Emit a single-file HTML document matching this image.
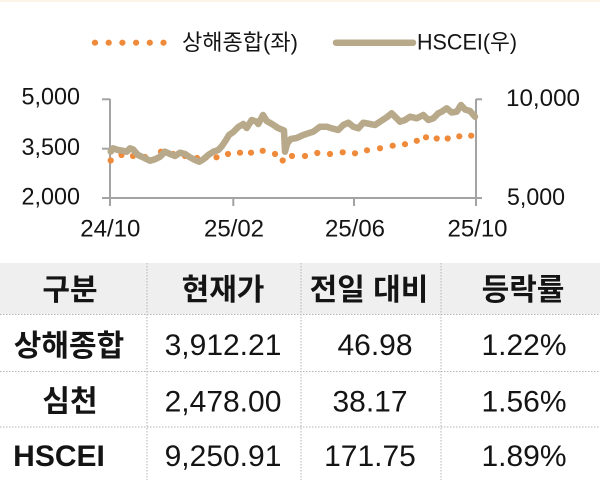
<!DOCTYPE html>
<html>
<head>
<meta charset="utf-8">
<style>
html,body{margin:0;padding:0;background:#fff;}
svg{display:block;}
text{font-family:"Liberation Sans","Noto Sans CJK KR",sans-serif;fill:#141414;}
.b{font-weight:bold;}
</style>
</head>
<body>
<svg width="600" height="480" viewBox="0 0 600 480" xmlns="http://www.w3.org/2000/svg">
  <rect x="0" y="0" width="600" height="480" fill="#ffffff"/>
  <rect x="0" y="0" width="600" height="2" fill="#fcf4e6"/>

  <!-- Legend -->
  <g fill="#ef8a3a">
    <circle cx="95" cy="42.7" r="3.1"/>
    <circle cx="108.7" cy="42.7" r="3.1"/>
    <circle cx="122.4" cy="42.7" r="3.1"/>
    <circle cx="136.1" cy="42.7" r="3.1"/>
    <circle cx="149.8" cy="42.7" r="3.1"/>
    <circle cx="163.5" cy="42.7" r="3.1"/>
  </g>
  <text x="182" y="50" font-size="22" textLength="116" lengthAdjust="spacingAndGlyphs">상해종합(좌)</text>
  <line x1="336" y1="42.7" x2="413" y2="42.7" stroke="#b8a98a" stroke-width="6.5" stroke-linecap="round"/>
  <text x="417" y="49.3" font-size="22" textLength="100" lengthAdjust="spacingAndGlyphs">HSCEI(우)</text>

  <!-- Axes -->
  <g stroke="#a3a3a3" stroke-width="2" fill="none">
    <line x1="110" y1="99" x2="110" y2="198"/>
    <line x1="102" y1="99.3" x2="110" y2="99.3"/>
    <line x1="102" y1="148.7" x2="110" y2="148.7"/>
    <line x1="102" y1="198" x2="110" y2="198"/>
    <line x1="110" y1="198" x2="476" y2="198"/>
    <line x1="476" y1="99" x2="476" y2="198"/>
    <line x1="476" y1="99.3" x2="482" y2="99.3"/>
    <line x1="476" y1="198" x2="482" y2="198"/>
    <line x1="110" y1="198" x2="110" y2="206"/>
    <line x1="233.3" y1="198" x2="233.3" y2="206"/>
    <line x1="354" y1="198" x2="354" y2="206"/>
    <line x1="476" y1="198" x2="476" y2="206"/>
  </g>

  <!-- Left labels -->
  <text x="80" y="104.5" font-size="24" text-anchor="end" textLength="58.5" lengthAdjust="spacingAndGlyphs">5,000</text>
  <text x="80" y="155" font-size="24" text-anchor="end" textLength="58.5" lengthAdjust="spacingAndGlyphs">3,500</text>
  <text x="80" y="204.5" font-size="24" text-anchor="end" textLength="58.5" lengthAdjust="spacingAndGlyphs">2,000</text>
  <!-- Right labels -->
  <text x="506" y="106" font-size="24" textLength="74" lengthAdjust="spacingAndGlyphs">10,000</text>
  <text x="507" y="205" font-size="24" textLength="58" lengthAdjust="spacingAndGlyphs">5,000</text>
  <!-- X labels -->
  <text x="110.3" y="236.5" font-size="24" text-anchor="middle">24/10</text>
  <text x="234" y="236.5" font-size="24" text-anchor="middle">25/02</text>
  <text x="355" y="236.5" font-size="24" text-anchor="middle">25/06</text>
  <text x="477.5" y="236.5" font-size="24" text-anchor="middle">25/10</text>

  <!-- Shanghai dots -->
  <g fill="#ef8a3a">
    <circle cx="110.7" cy="160.5" r="3.1"/>
    <circle cx="121.5" cy="155" r="3.1"/>
    <circle cx="133" cy="156" r="3.1"/>
    <circle cx="145" cy="157" r="3.1"/>
    <circle cx="161" cy="151.7" r="3.1"/>
    <circle cx="173" cy="154" r="3.1"/>
    <circle cx="185" cy="156" r="3.1"/>
    <circle cx="197" cy="158" r="3.1"/>
    <circle cx="206" cy="157.5" r="3.1"/>
    <circle cx="216.5" cy="157.3" r="3.1"/>
    <circle cx="228" cy="154" r="3.1"/>
    <circle cx="240" cy="152.7" r="3.1"/>
    <circle cx="251" cy="152.7" r="3.1"/>
    <circle cx="262.7" cy="150.8" r="3.1"/>
    <circle cx="275" cy="154" r="3.1"/>
    <circle cx="282.7" cy="160.5" r="3.1"/>
    <circle cx="292" cy="156" r="3.1"/>
    <circle cx="305" cy="156" r="3.1"/>
    <circle cx="317.3" cy="153" r="3.1"/>
    <circle cx="330" cy="154" r="3.1"/>
    <circle cx="342.7" cy="152.3" r="3.1"/>
    <circle cx="355" cy="153.3" r="3.1"/>
    <circle cx="367" cy="150.3" r="3.1"/>
    <circle cx="380" cy="148.3" r="3.1"/>
    <circle cx="392.7" cy="145.7" r="3.1"/>
    <circle cx="405" cy="144.2" r="3.1"/>
    <circle cx="416.8" cy="140.8" r="3.1"/>
    <circle cx="426" cy="137.3" r="3.1"/>
    <circle cx="436.7" cy="138.5" r="3.1"/>
    <circle cx="447.7" cy="138.5" r="3.1"/>
    <circle cx="459.3" cy="136.3" r="3.1"/>
    <circle cx="471.2" cy="135.7" r="3.1"/>
  </g>

  <!-- HSCEI line -->
  <polyline fill="none" stroke="#b8a98a" stroke-width="6.5" stroke-linejoin="round" stroke-linecap="round"
    points="110.7,151.7 113,148.3 118,150 123,150.7 126.7,151.7 130,148.3 133,149.3 138,155 143,157.3 150,160.7 155,159.3 160,156.7 165,151.7 170,154 175,156 180,152.7 185,154 190,157.3 195,160 199.3,161.7 203.3,159.3 208.3,155 213.3,151.7 218.3,150 222,146 226,140 229,135 233.3,132 238.3,127 243.3,124 246.7,128 251.7,120 256.7,121.7 258.3,124 263,115 266.7,121 272,124 278,128 284,130.5 285,151.7 287.3,143.3 290.7,139 296.7,138 303.3,135 308.3,133.3 313.3,131.7 320,126.7 326.7,126.7 331.7,128.3 338.3,130 343.3,125 348.3,122.7 353.3,126.7 358.3,128.3 363.3,122.7 370,124 375,125 380,121.7 386.7,117.3 391.7,113.3 396.7,118.3 400,121.7 405,120 410,116.7 416.7,118.3 423.3,115 428.3,120 433.3,118.3 438.3,113.3 441.7,111.7 446.7,108.3 451.7,112.5 456.7,111.7 461,105 465,109.5 470,111 475,116.7"/>

  <!-- Table -->
  <rect x="0" y="263" width="600" height="51" fill="#efefef"/>
  <g stroke="#b5b5b5" stroke-width="1" stroke-dasharray="1.5 1.5" fill="none">
    <line x1="0" y1="314.5" x2="600" y2="314.5"/>
    <line x1="0" y1="371.5" x2="600" y2="371.5"/>
    <line x1="0" y1="427" x2="600" y2="427"/>
    <line x1="147" y1="263" x2="147" y2="480"/>
    <line x1="301" y1="263" x2="301" y2="480"/>
    <line x1="441" y1="263" x2="441" y2="480"/>
  </g>

  <!-- Header -->
  <text class="b" x="70" y="300" font-size="30" text-anchor="middle">구분</text>
  <text class="b" x="223" y="300" font-size="30" text-anchor="middle">현재가</text>
  <text class="b" x="369" y="300" font-size="30" text-anchor="middle">전일 대비</text>
  <text class="b" x="523" y="300" font-size="30" text-anchor="middle">등락률</text>

  <!-- Row 1 -->
  <text class="b" x="69" y="356" font-size="30" text-anchor="middle">상해종합</text>
  <text x="223" y="355" font-size="30" text-anchor="middle">3,912.21</text>
  <text x="375" y="355" font-size="30" text-anchor="middle">46.98</text>
  <text x="524" y="355" font-size="30" text-anchor="middle">1.22%</text>

  <!-- Row 2 -->
  <text class="b" x="70" y="411.7" font-size="30" text-anchor="middle">심천</text>
  <text x="223" y="411.7" font-size="30" text-anchor="middle">2,478.00</text>
  <text x="370" y="411.7" font-size="30" text-anchor="middle">38.17</text>
  <text x="524" y="411.7" font-size="30" text-anchor="middle">1.56%</text>

  <!-- Row 3 -->
  <text class="b" x="59" y="466" font-size="30" text-anchor="middle">HSCEI</text>
  <text x="223" y="466" font-size="30" text-anchor="middle">9,250.91</text>
  <text x="370" y="466" font-size="30" text-anchor="middle">171.75</text>
  <text x="524" y="466" font-size="30" text-anchor="middle">1.89%</text>
</svg>
</body>
</html>
